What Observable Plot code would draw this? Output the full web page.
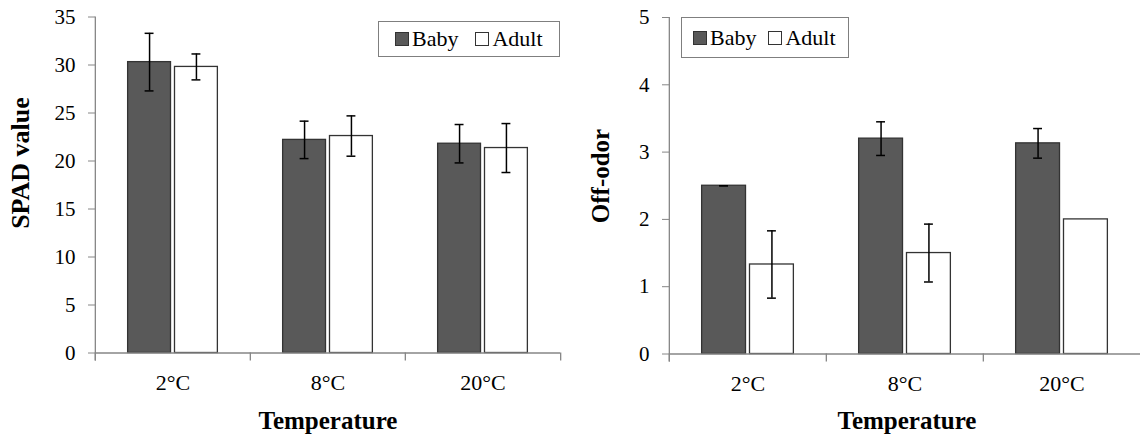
<!DOCTYPE html>
<html><head><meta charset="utf-8">
<script src="https://cdn.jsdelivr.net/npm/d3@7"></script>
<script src="https://cdn.jsdelivr.net/npm/@observablehq/plot@0.6"></script>
<style>
html,body{margin:0;padding:0;background:#fff;font-family:'Liberation Serif', serif;}
#wrap{position:relative;width:1140px;height:436px;font-family:'Liberation Serif', serif;overflow:hidden;}
#wrap svg text{font-family:'Liberation Serif', serif;}
.chart{position:absolute;top:0;}
.title{position:absolute;font-weight:bold;white-space:nowrap;color:#000;line-height:1;font-family:'Liberation Serif', serif;}
.ytitle{transform:translate(-50%,-50%) rotate(-90deg);}
.xtitle{transform:translateX(-50%);}
.legend{position:absolute;border:1.3px solid #7f7f7f;box-sizing:border-box;display:flex;align-items:center;font-size:22px;line-height:1;color:#000;background:#fff;font-family:'Liberation Serif', serif;}
.sw{display:inline-block;width:14px;height:14px;border:1.2px solid #333;box-sizing:border-box;margin-right:3px;}
</style></head>
<body>
<div id="wrap"></div>
<script>
// ---- data ----
const temps = ["2°C", "8°C", "20°C"];
const groups = ["Baby", "Adult"];
const spadTicks = [0, 5, 10, 15, 20, 25, 30, 35];
const spadBaby = [30.3, 22.2, 21.8];
const spadBabyErr = [3.0, 1.95, 2.0];
const spadAdult = [29.8, 22.6, 21.35];
const spadAdultErr = [1.35, 2.1, 2.55];
const odorTicks = [0, 1, 2, 3, 4, 5];
const odorBaby = [2.5, 3.2, 3.13];
const odorBabyErr = [0, 0.25, 0.22];
const odorAdult = [1.33, 1.5, 2.0];
const odorAdultErr = [0.5, 0.43, null];

const axisColor = "#868686";
const barColors = ["#595959", "#ffffff"];
const serif = "'Liberation Serif', serif";

function makeChart(o) {
  const data = [];
  temps.forEach((t, i) => {
    data.push({temp: t, group: "Baby", v: o.baby[i], e: o.babyErr[i]});
    data.push({temp: t, group: "Adult", v: o.adult[i], e: o.adultErr[i]});
  });
  const errData = data.filter(d => d.e != null);
  const facetW = (o.width - o.mL - o.mR) / temps.length;
  const gap = 4, outer = 32.7;
  const step = (facetW + gap - 2 * outer) / groups.length;
  const bw = step - gap;
  const capInset = (bw - 9) / 2;
  const yMax = o.ticks[o.ticks.length - 1];
  const svg = Plot.plot({
    width: o.width, height: 436,
    marginLeft: o.mL, marginRight: o.mR, marginTop: o.mT, marginBottom: o.mB,
    style: "font-family:" + serif + ";font-size:21px;background:transparent;color:#000;overflow:visible;",
    fx: {domain: temps, padding: 0, label: null},
    x: {domain: groups, paddingInner: gap / step, paddingOuter: outer / step, round: false, axis: null},
    y: {domain: [0, yMax], label: null},
    color: {domain: groups, range: barColors},
    marks: [
      Plot.barY(data, {fx: "temp", x: "group", y: "v", fill: "group", stroke: "#333", strokeWidth: 1.3}),
      Plot.ruleY([0], {stroke: axisColor, strokeWidth: 1.3}),
      Plot.ruleX([temps[0]], {fx: d => d, x: null, y1: yMax, y2: 0, insetBottom: -8, dx: -facetW / 2, stroke: axisColor, strokeWidth: 1.3}),
      Plot.ruleX(temps, {fx: d => d, x: null, y1: 0, y2: 0, insetBottom: -8, dx: -facetW / 2, stroke: axisColor, strokeWidth: 1.3}),
      Plot.ruleX([temps[temps.length - 1]], {fx: d => d, x: null, y1: 0, y2: 0, insetBottom: -8, dx: facetW / 2, stroke: axisColor, strokeWidth: 1.3}),
      Plot.ruleX(errData, {fx: "temp", x: "group", y1: d => d.v - d.e, y2: d => d.v + d.e, stroke: "#000", strokeWidth: 1.5}),
      Plot.tickY(errData, {fx: "temp", x: "group", y: d => d.v + d.e, insetLeft: capInset, insetRight: capInset, stroke: "#000", strokeWidth: 1.5}),
      Plot.tickY(errData, {fx: "temp", x: "group", y: d => d.v - d.e, insetLeft: capInset, insetRight: capInset, stroke: "#000", strokeWidth: 1.5}),
      Plot.axisY({ticks: o.ticks, tickFormat: d => String(d), tickSize: 7, tickPadding: 13, stroke: axisColor, fill: "#000", fontSize: 21, fontFamily: serif, label: null}),
      Plot.axisFx({anchor: "bottom", tickSize: 0, tickPadding: 21, fill: "#000", fontSize: 22, fontFamily: serif, label: null})
    ]
  });
  svg.querySelectorAll("text").forEach(t => t.setAttribute("font-family", serif));
  return svg;
}

const wrap = document.getElementById("wrap");

function place(el, left) { el.classList.add("chart"); el.style.position = "absolute"; el.style.top = "0px"; el.style.left = left + "px"; wrap.appendChild(el); }

place(makeChart({baby: spadBaby, babyErr: spadBabyErr, adult: spadAdult, adultErr: spadAdultErr, ticks: spadTicks,
  width: 570, mL: 94, mR: 10, mT: 16.5, mB: 83.5}), 0);
place(makeChart({baby: odorBaby, babyErr: odorBabyErr, adult: odorAdult, adultErr: odorAdultErr, ticks: odorTicks,
  width: 570, mL: 98, mR: 0, mT: 17, mB: 82.5}), 570);

function title(text, cls, x, y, size) {
  const d = document.createElement("div");
  d.className = "title " + cls;
  d.textContent = text;
  d.style.left = x + "px"; d.style.top = y + "px"; d.style.fontSize = size + "px";
  d.style.fontFamily = serif;
  wrap.appendChild(d);
}
title("SPAD value", "ytitle", 21, 163, 26);
title("Off-odor", "ytitle", 600, 176, 25);
title("Temperature", "xtitle", 328, 408, 25);
title("Temperature", "xtitle", 907, 408, 25);

function legend(x, y, w, h, padL, itemGap) {
  const box = document.createElement("div");
  box.className = "legend";
  box.style.left = x + "px"; box.style.top = y + "px"; box.style.width = w + "px"; box.style.height = h + "px";
  box.style.paddingLeft = padL + "px";
  box.style.fontFamily = serif;
  groups.forEach((g, i) => {
    const item = document.createElement("span");
    item.style.display = "inline-flex"; item.style.alignItems = "center";
    if (i > 0) item.style.marginLeft = itemGap + "px";
    const sw = document.createElement("span");
    sw.className = "sw"; sw.style.background = barColors[i];
    const t = document.createElement("span"); t.textContent = g;
    item.appendChild(sw); item.appendChild(t);
    box.appendChild(item);
  });
  wrap.appendChild(box);
}
legend(378, 21, 182, 36, 16, 17);
legend(681, 17, 168, 41, 11, 12);
</script>
</body></html>
